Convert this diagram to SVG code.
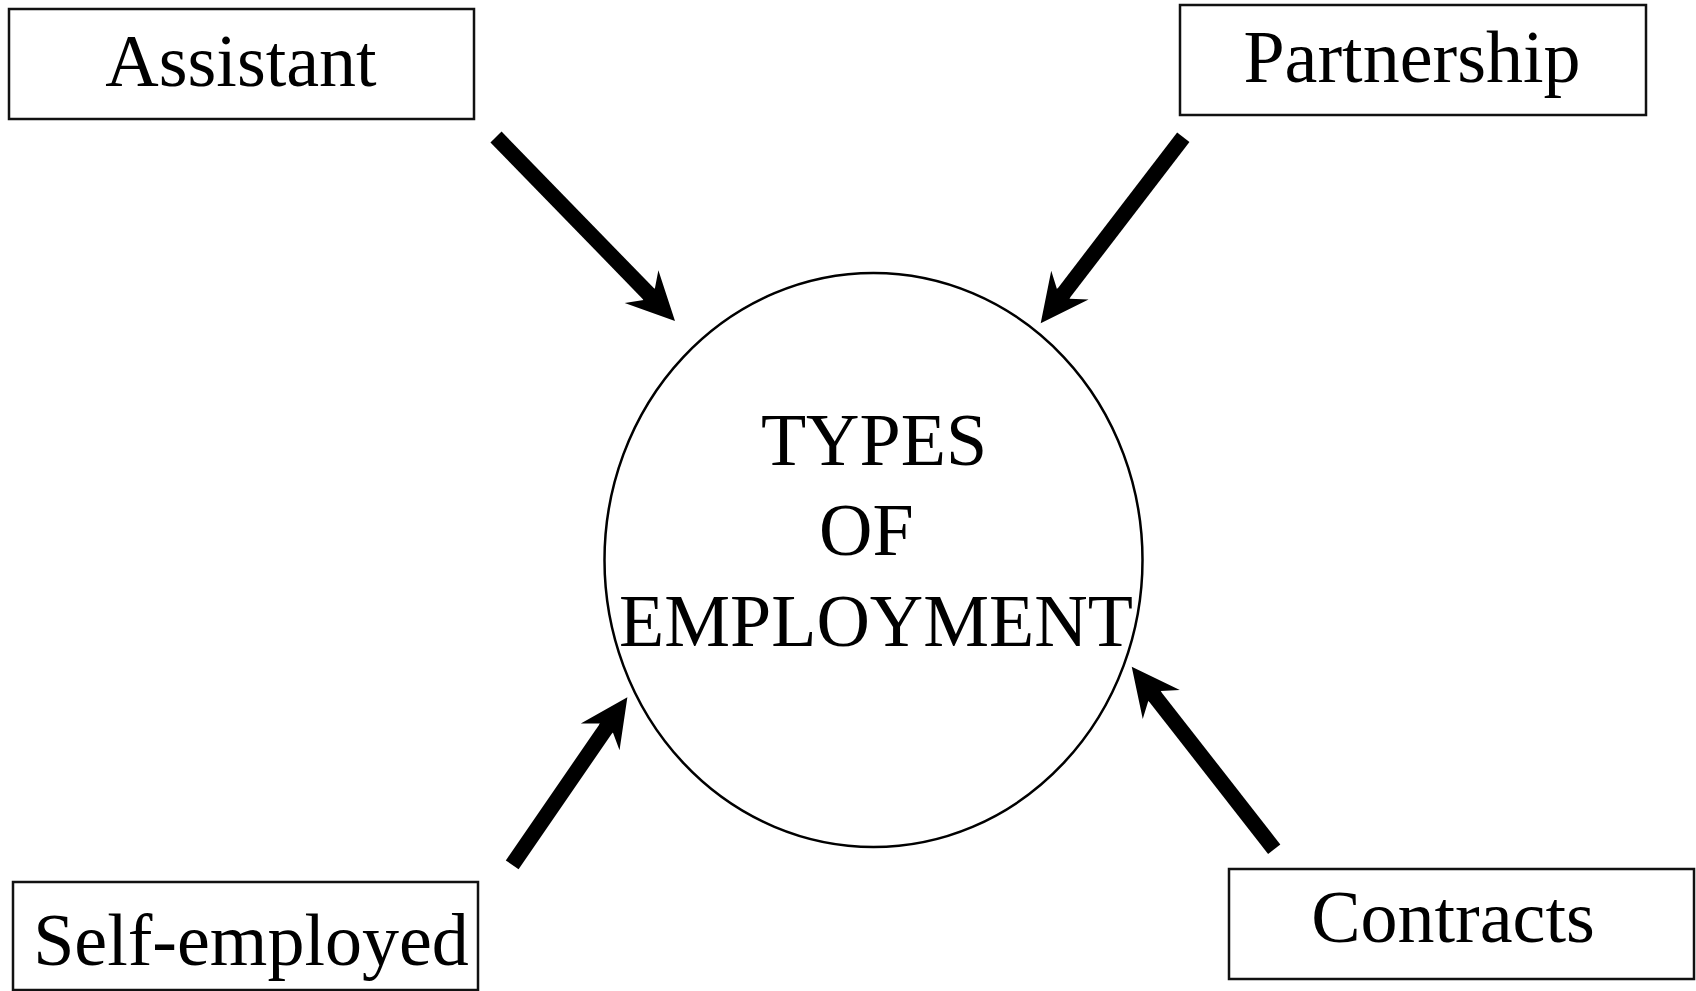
<svg xmlns="http://www.w3.org/2000/svg" width="1696" height="991" viewBox="0 0 1696 991">
<style>
.box{fill:#fff;stroke:#111;stroke-width:2.5}
.lbl{font-family:"Liberation Serif","Times New Roman",serif;font-size:74px;fill:#000}
.shaft{stroke:#000;stroke-width:15.5;fill:none}
</style>
<defs>
<marker id="head" markerUnits="userSpaceOnUse" viewBox="-12 -24 50 48" markerWidth="50" markerHeight="48" refX="0" refY="0" orient="auto">
<path d="M37,0 L-11,-23.5 L0,-7.8 L-1.5,-7.8 L-1.5,7.8 L0,7.8 L-11,23.5 Z" fill="#000"/>
</marker>
</defs>
<rect width="1696" height="991" fill="#fff"/>
<g id="center">
<ellipse cx="873.5" cy="560" rx="269" ry="287" fill="none" stroke="#000" stroke-width="2.5"/>
<text class="lbl" x="874" y="465" text-anchor="middle">TYPES</text>
<text class="lbl" x="819" y="555">OF</text>
<text class="lbl" x="876" y="646" text-anchor="middle">EMPLOYMENT</text>
</g>
<g id="assistant">
<rect class="box" x="9" y="9" width="465" height="110"/>
<text class="lbl" x="241" y="86" text-anchor="middle">Assistant</text>
</g>
<g id="partnership">
<rect class="box" x="1180" y="5" width="466" height="110"/>
<text class="lbl" x="1412" y="82" text-anchor="middle">Partnership</text>
</g>
<g id="selfemployed">
<rect class="box" x="13" y="882" width="465" height="108"/>
<text class="lbl" x="251" y="965" text-anchor="middle">Self-employed</text>
</g>
<g id="contracts">
<rect class="box" x="1229" y="869" width="465" height="110"/>
<text class="lbl" x="1453" y="942" text-anchor="middle">Contracts</text>
</g>
<g id="connectors">
<line class="shaft" x1="496" y1="137" x2="649.2" y2="294.5" marker-end="url(#head)"/>
<line class="shaft" x1="1183.3" y1="137.2" x2="1063.2" y2="293.9" marker-end="url(#head)"/>
<line class="shaft" x1="512.2" y1="864.8" x2="606.4" y2="727.8" marker-end="url(#head)"/>
<line class="shaft" x1="1274.2" y1="849.2" x2="1154.5" y2="695.9" marker-end="url(#head)"/>
</g>
</svg>
